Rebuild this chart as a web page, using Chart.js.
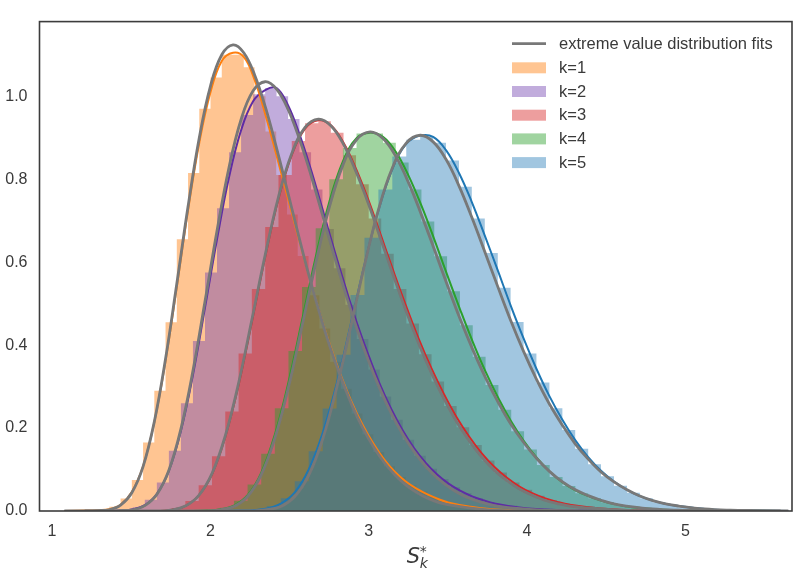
<!DOCTYPE html>
<html>
<head>
<meta charset="utf-8">
<script src="https://cdn.jsdelivr.net/npm/chart.js@4.4.1/dist/chart.umd.min.js"></script>
<style>
  html, body { margin: 0; padding: 0; background: #fff; }
  #wrap { width: 800px; height: 573px; }
</style>
</head>
<body>
<div id="wrap"><canvas id="evd-chart" width="800" height="573"></canvas></div>
<script>
// S*_k per k: sample positions, EV fit density, KDE, histogram bin heights (bin i spans x[i]..x[i+1])
const k1X = [1.078, 1.220, 1.291, 1.362, 1.433, 1.504, 1.575, 1.646, 1.717, 1.788, 1.859, 1.930, 2.001, 2.072, 2.143,
  2.211, 2.279, 2.348, 2.416, 2.484, 2.552, 2.620, 2.689, 2.757, 2.825,
  2.893, 2.961, 3.030, 3.098, 3.166, 3.234, 3.302, 3.371, 3.439, 3.507, 3.643, 3.780, 3.916, 4.325];
const k1Fit = [0, 0, 0.001, 0.003, 0.014, 0.044, 0.107, 0.215, 0.367, 0.548, 0.734, 0.900, 1.025, 1.100, 1.124,
  1.105, 1.052, 0.973, 0.878, 0.776, 0.672, 0.571, 0.478, 0.394, 0.321,
  0.256, 0.201, 0.155, 0.117, 0.087, 0.063, 0.045, 0.031, 0.021, 0.015, 0.007, 0.002, 0.001, 0];
const k1Kde = [0, 0.001, 0.002, 0.004, 0.015, 0.046, 0.108, 0.214, 0.362, 0.540, 0.725, 0.888, 1.010, 1.085, 1.105,
  1.095, 1.040, 0.955, 0.860, 0.762, 0.665, 0.570, 0.480, 0.398, 0.326,
  0.262, 0.208, 0.162, 0.124, 0.094, 0.071, 0.054, 0.040, 0.029, 0.020, 0.010, 0.004, 0.002, 0];
const k1Hist = [0, 0.001, 0.003, 0.010, 0.030, 0.075, 0.165, 0.290, 0.455, 0.655,
  0.815, 0.970, 1.045, 1.100, 1.100, 1.070, 1.000, 0.915, 0.810, 0.715,
  0.615, 0.520, 0.440, 0.360, 0.295, 0.235, 0.185, 0.142, 0.108, 0.082,
  0.062, 0.047, 0.034, 0.024, 0.015, 0.007, 0.003, 0.001];

const k2X = [1.206, 1.358, 1.434, 1.510, 1.586, 1.662, 1.738, 1.814, 1.890, 1.966, 2.042, 2.118, 2.194, 2.270, 2.346,
  2.418, 2.491, 2.563, 2.636, 2.708, 2.780, 2.853, 2.925, 2.998, 3.070,
  3.142, 3.215, 3.287, 3.360, 3.432, 3.504, 3.577, 3.649, 3.722, 3.794, 3.939, 4.084, 4.228, 4.663];
const k2Fit = [0, 0, 0.001, 0.003, 0.013, 0.040, 0.098, 0.198, 0.338, 0.505, 0.676, 0.829, 0.944, 1.013, 1.035,
  1.017, 0.968, 0.896, 0.809, 0.714, 0.618, 0.526, 0.440, 0.363, 0.295,
  0.236, 0.185, 0.143, 0.108, 0.080, 0.058, 0.041, 0.029, 0.020, 0.013, 0.006, 0.002, 0.001, 0];
const k2Kde = [0, 0, 0.001, 0.004, 0.014, 0.041, 0.097, 0.193, 0.328, 0.490, 0.655, 0.805, 0.918, 0.988, 1.015,
  1.020, 0.978, 0.908, 0.822, 0.728, 0.632, 0.540, 0.454, 0.376, 0.306,
  0.246, 0.194, 0.151, 0.116, 0.088, 0.066, 0.049, 0.036, 0.026, 0.018, 0.009, 0.004, 0.002, 0];
const k2Hist = [0, 0.001, 0.002, 0.009, 0.027, 0.069, 0.145, 0.260, 0.410, 0.575,
  0.730, 0.865, 0.955, 1.005, 1.020, 1.000, 0.945, 0.865, 0.775, 0.680,
  0.585, 0.497, 0.415, 0.341, 0.276, 0.220, 0.172, 0.133, 0.102, 0.077,
  0.057, 0.043, 0.031, 0.022, 0.013, 0.006, 0.003, 0.001];

const k3X = [1.422, 1.590, 1.674, 1.758, 1.842, 1.926, 2.010, 2.094, 2.178, 2.262, 2.346, 2.430, 2.514, 2.598, 2.682,
  2.761, 2.841, 2.920, 3.000, 3.079, 3.158, 3.238, 3.317, 3.397, 3.476,
  3.555, 3.635, 3.714, 3.794, 3.873, 3.952, 4.032, 4.111, 4.190, 4.270, 4.429, 4.588, 4.746, 5.223];
const k3Fit = [0, 0, 0, 0.003, 0.012, 0.037, 0.090, 0.181, 0.308, 0.461, 0.617, 0.757, 0.862, 0.925, 0.945,
  0.929, 0.884, 0.818, 0.739, 0.652, 0.565, 0.480, 0.402, 0.332, 0.270,
  0.215, 0.169, 0.130, 0.098, 0.073, 0.053, 0.038, 0.026, 0.018, 0.012, 0.006, 0.002, 0.001, 0];
const k3Kde = [0, 0, 0, 0.003, 0.012, 0.037, 0.088, 0.178, 0.303, 0.455, 0.612, 0.752, 0.858, 0.922, 0.942,
  0.930, 0.888, 0.825, 0.748, 0.662, 0.576, 0.492, 0.414, 0.343, 0.281,
  0.226, 0.179, 0.139, 0.106, 0.080, 0.059, 0.043, 0.031, 0.022, 0.015, 0.007, 0.003, 0.001, 0];
const k3Hist = [0, 0, 0.001, 0.007, 0.024, 0.062, 0.132, 0.240, 0.380, 0.535,
  0.685, 0.810, 0.892, 0.935, 0.940, 0.912, 0.858, 0.788, 0.705, 0.620,
  0.535, 0.452, 0.378, 0.312, 0.253, 0.202, 0.159, 0.122, 0.093, 0.069,
  0.051, 0.037, 0.026, 0.018, 0.011, 0.005, 0.002, 0.001];

const k4X = [1.719, 1.891, 1.977, 2.063, 2.149, 2.235, 2.321, 2.407, 2.493, 2.579, 2.665, 2.751, 2.837, 2.923, 3.009,
  3.090, 3.171, 3.252, 3.333, 3.414, 3.495, 3.576, 3.657, 3.738, 3.819,
  3.900, 3.981, 4.062, 4.143, 4.224, 4.305, 4.386, 4.467, 4.548, 4.629, 4.791, 4.953, 5.115, 5.601];
const k4Fit = [0, 0, 0, 0.003, 0.011, 0.035, 0.087, 0.175, 0.298, 0.446, 0.597, 0.732, 0.834, 0.895, 0.914,
  0.898, 0.855, 0.791, 0.714, 0.631, 0.546, 0.464, 0.389, 0.321, 0.261,
  0.208, 0.164, 0.126, 0.095, 0.070, 0.051, 0.037, 0.026, 0.017, 0.012, 0.005, 0.002, 0.001, 0];
const k4Kde = [0, 0, 0.001, 0.004, 0.013, 0.038, 0.092, 0.184, 0.310, 0.460, 0.612, 0.745, 0.843, 0.899, 0.912,
  0.902, 0.866, 0.808, 0.736, 0.655, 0.570, 0.487, 0.408, 0.336, 0.272,
  0.216, 0.168, 0.128, 0.095, 0.069, 0.050, 0.036, 0.025, 0.017, 0.011, 0.005, 0.002, 0.001, 0];
const k4Hist = [0, 0, 0.002, 0.008, 0.025, 0.064, 0.138, 0.248, 0.386, 0.540,
  0.682, 0.800, 0.875, 0.910, 0.910, 0.888, 0.840, 0.775, 0.698, 0.614,
  0.530, 0.448, 0.372, 0.304, 0.244, 0.192, 0.148, 0.111, 0.082, 0.060,
  0.043, 0.031, 0.021, 0.014, 0.008, 0.004, 0.001, 0.001];

const k5X = [2.005, 2.181, 2.269, 2.357, 2.445, 2.533, 2.621, 2.709, 2.797, 2.885, 2.973, 3.061, 3.149, 3.237, 3.325,
  3.407, 3.488, 3.570, 3.651, 3.733, 3.815, 3.896, 3.978, 4.059, 4.141,
  4.223, 4.304, 4.386, 4.467, 4.549, 4.631, 4.712, 4.794, 4.875, 4.957, 5.120, 5.283, 5.447, 5.650];
const k5Fit = [0, 0, 0, 0.003, 0.011, 0.035, 0.086, 0.173, 0.296, 0.442, 0.592, 0.726, 0.827, 0.887, 0.906,
  0.890, 0.848, 0.784, 0.708, 0.625, 0.541, 0.460, 0.385, 0.318, 0.258,
  0.207, 0.162, 0.125, 0.094, 0.070, 0.051, 0.036, 0.025, 0.017, 0.012, 0.005, 0.002, 0.001, 0];
const k5Kde = [0, 0.001, 0.002, 0.006, 0.018, 0.045, 0.100, 0.188, 0.306, 0.448, 0.594, 0.724, 0.824, 0.885, 0.905,
  0.902, 0.870, 0.815, 0.745, 0.664, 0.580, 0.496, 0.416, 0.343, 0.277,
  0.220, 0.171, 0.130, 0.097, 0.071, 0.051, 0.036, 0.025, 0.017, 0.012, 0.005, 0.002, 0.001, 0];
const k5Hist = [0, 0.001, 0.004, 0.012, 0.031, 0.072, 0.144, 0.247, 0.377, 0.521,
  0.659, 0.775, 0.855, 0.895, 0.903, 0.888, 0.845, 0.782, 0.705, 0.622,
  0.538, 0.456, 0.380, 0.310, 0.248, 0.195, 0.150, 0.113, 0.084, 0.061,
  0.044, 0.031, 0.021, 0.014, 0.008, 0.003, 0.001, 0.001];

const xTicks = [1, 2, 3, 4, 5];
const yTicks = [0, 0.2, 0.4, 0.6, 0.8, 1.0];
const kLabels = ['k=1', 'k=2', 'k=3', 'k=4', 'k=5'];
const fitLabel = 'extreme value distribution fits';

const FONT = '"Liberation Sans", Arial, sans-serif';
const TEXT = '#3a3a3a';
const FIT_GRAY = '#787878';

const groups = [
  { xs: k1X, fit: k1Fit, kde: k1Kde, hist: k1Hist, line: '#ff7f0e', fill: 'rgba(255,127,14,0.45)' },
  { xs: k2X, fit: k2Fit, kde: k2Kde, hist: k2Hist, line: '#5e2ca5', fill: 'rgba(118,70,178,0.45)' },
  { xs: k3X, fit: k3Fit, kde: k3Kde, hist: k3Hist, line: '#d62728', fill: 'rgba(214,39,40,0.45)' },
  { xs: k4X, fit: k4Fit, kde: k4Kde, hist: k4Hist, line: '#2ca02c', fill: 'rgba(44,160,44,0.45)' },
  { xs: k5X, fit: k5Fit, kde: k5Kde, hist: k5Hist, line: '#1f77b4', fill: 'rgba(31,119,180,0.42)' }
];

const toPoints = (xs, ys) => xs.map((x, i) => ({ x, y: i < ys.length ? ys[i] : 0 }));
// histogram: value of bin i belongs to the point closing it, so the step sits at x[i]
const toBins = (xs, hs) => xs.map((x, i) => ({ x, y: i === 0 ? 0 : hs[i - 1] }));

const datasets = [];
groups.forEach((g, i) => {
  // gray EV fits on top
  datasets.push({
    label: i === 0 ? fitLabel : '',
    legendRow: i === 0 ? 0 : undefined,
    data: toPoints(g.xs, g.fit),
    borderColor: FIT_GRAY, borderWidth: 2.8, tension: 0.4,
    pointRadius: 0, fill: false, order: 0
  });
  // kde line
  datasets.push({
    label: '',
    data: toPoints(g.xs, g.kde),
    borderColor: g.line, borderWidth: 2, tension: 0.4,
    pointRadius: 0, fill: false, order: 1
  });
  // histogram, k=5 drawn last
  datasets.push({
    label: kLabels[i],
    legendRow: i + 1,
    data: toBins(g.xs, g.hist),
    stepped: 'after',
    borderWidth: 0, borderColor: 'rgba(0,0,0,0)',
    backgroundColor: g.fill,
    pointRadius: 0, fill: 'origin', order: 6 - i
  });
});

const framePlugin = {
  id: 'frame',
  afterDatasetsDraw(chart) {
    const { ctx, chartArea: a } = chart;
    ctx.save();
    ctx.strokeStyle = '#3c3c3c';
    ctx.lineWidth = 1.6;
    ctx.strokeRect(a.left, a.top, a.right - a.left, a.bottom - a.top);
    ctx.restore();
  }
};

const cornerLegend = {
  id: 'cornerLegend',
  afterDraw(chart) {
    const { ctx, chartArea: a } = chart;
    const rows = chart.data.datasets
      .filter(d => d.legendRow !== undefined)
      .sort((p, q) => p.legendRow - q.legendRow);
    const x0 = a.right - 280;
    ctx.save();
    ctx.font = '16.5px ' + FONT;
    ctx.textBaseline = 'middle';
    rows.forEach((d, i) => {
      const y = a.top + 22 + i * 23.7;
      if (d.fill === false) {
        ctx.strokeStyle = d.borderColor;
        ctx.lineWidth = 2.8;
        ctx.beginPath();
        ctx.moveTo(x0, y);
        ctx.lineTo(x0 + 34, y);
        ctx.stroke();
      } else {
        ctx.fillStyle = d.backgroundColor;
        ctx.fillRect(x0, y - 5, 34, 11);
      }
      ctx.fillStyle = TEXT;
      ctx.fillText(d.label, x0 + 47, y + 1);
    });
    ctx.restore();
  }
};

const axisTitle = {
  id: 'axisTitle',
  afterDraw(chart) {
    const { ctx, chartArea: a } = chart;
    const cx = (a.left + a.right) / 2;
    ctx.save();
    ctx.fillStyle = TEXT;
    ctx.textBaseline = 'alphabetic';
    ctx.font = 'italic 21px "DejaVu Sans"';
    ctx.fillText('S', cx - 9, 563);
    ctx.font = 'italic 14px "DejaVu Sans"';
    ctx.fillText('k', cx + 4, 568);
    ctx.font = '14px "DejaVu Sans"';
    ctx.fillText('*', cx + 4, 556);
    ctx.restore();
  }
};

new Chart(document.getElementById('evd-chart'), {
  type: 'line',
  data: { datasets },
  options: {
    responsive: false,
    animation: false,
    events: [],
    layout: { padding: { top: 6, right: 8, left: 0, bottom: 0 } },
    plugins: { legend: { display: false }, tooltip: { enabled: false } },
    scales: {
      x: {
        type: 'linear', min: 0.921, max: 5.673,
        grid: { display: false, drawTicks: false },
        border: { display: false },
        afterBuildTicks: s => { s.ticks = xTicks.map(v => ({ value: v })); },
        afterFit: s => { s.height = 62; },
        ticks: { padding: 11, color: TEXT, font: { family: FONT, size: 16 }, maxRotation: 0, autoSkip: false,
                 callback: v => String(v) }
      },
      y: {
        type: 'linear', min: 0, max: 1.18,
        grid: { display: false, drawTicks: false },
        border: { display: false },
        afterBuildTicks: s => { s.ticks = yTicks.map(v => ({ value: v })); },
        afterFit: s => { s.width = 39.5; },
        ticks: { padding: 12, color: TEXT, font: { family: FONT, size: 16 }, autoSkip: false,
                 callback: v => Number(v).toFixed(1) }
      }
    }
  },
  plugins: [framePlugin, cornerLegend, axisTitle]
});
</script>
</body>
</html>
